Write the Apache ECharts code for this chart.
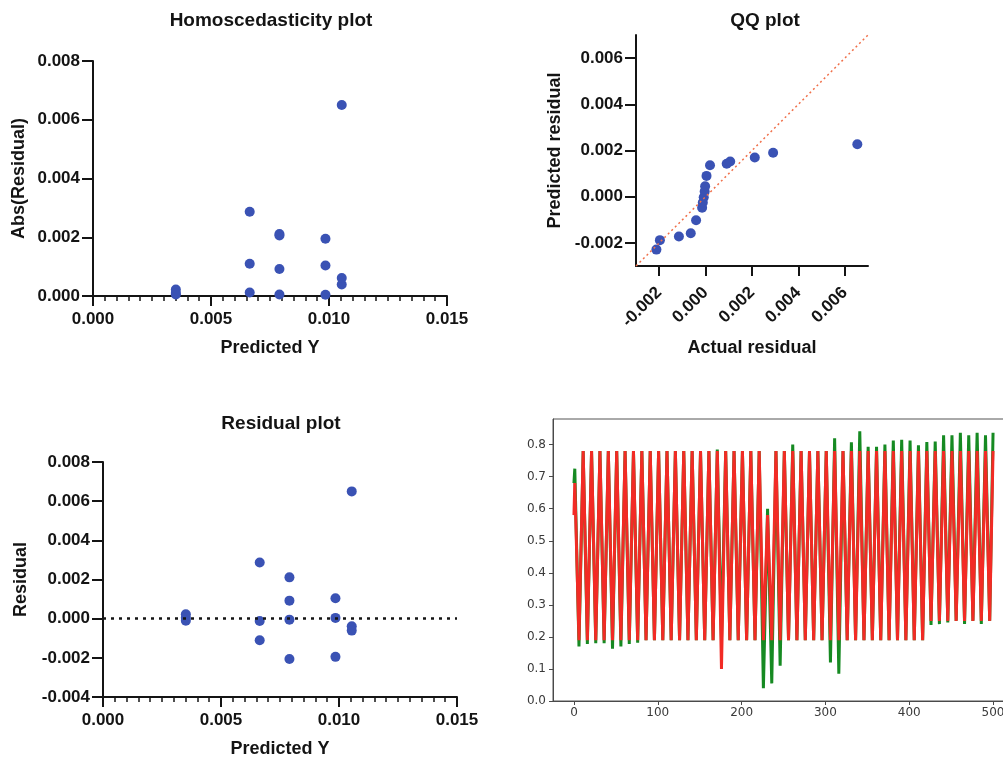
<!DOCTYPE html>
<html>
<head>
<meta charset="utf-8">
<title>Residual diagnostics</title>
<script src="https://cdn.jsdelivr.net/npm/echarts@6/dist/echarts.min.js"></script>
<style>
html, body { margin: 0; padding: 0; background: #ffffff; overflow: hidden; }
#chart { width: 1003px; height: 760px; }
</style>
</head>
<body>
<div id="chart"></div>
<script>
// predicted Y and residual of each point (homoscedasticity + residual plot)
const predY = [0.00351, 0.00351, 0.00351, 0.00664, 0.00664, 0.00664, 0.0079, 0.0079,
  0.0079, 0.0079, 0.00985, 0.00985, 0.00985, 0.01054, 0.01054, 0.01054]
const residual = [0.00022, 0.00005, -0.0001, 0.00287, -0.00012, -0.0011, 0.00211, 0.00092,
  -0.00005, -0.00206, 0.00104, 0.00004, -0.00195, 0.0065, -0.00039, -0.00061]

// QQ plot
const qqActual = [-0.00212, -0.00197, -0.00115, -0.00064, -0.00041, -0.00015, -0.00012, -0.00008,
  -0.00004, -0.00002, 0.00004, 0.00019, 0.00091, 0.00106, 0.00212, 0.00291, 0.00654]
const qqPredicted = [-0.00229, -0.00188, -0.00172, -0.00158, -0.00102, -0.00048, -0.00025, -0.00002,
  0.00022, 0.00045, 0.0009, 0.00136, 0.00143, 0.00152, 0.0017, 0.0019, 0.00227]
const qqLine = [-0.003, 0.007]

// tick labels
const predTicks = [0, 0.005, 0.01, 0.015]
const qqTicks = [-0.002, 0, 0.002, 0.004, 0.006]
const stepTicks = [0, 100, 200, 300, 400, 500]
const probTicks = [0, 0.1, 0.2, 0.3, 0.4, 0.5, 0.6, 0.7, 0.8]

// line plot (bottom right)
const stepX = [0, 1, 6, 11, 16, 21, 26, 31, 36, 41,
  46, 51, 56, 61, 66, 71, 76, 81, 86, 91,
  96, 101, 106, 111, 116, 121, 126, 131, 136, 141,
  146, 151, 156, 161, 166, 171, 176, 181, 186, 191,
  196, 201, 206, 211, 216, 221, 226, 231, 236, 241,
  246, 251, 256, 261, 266, 271, 276, 281, 286, 291,
  296, 301, 306, 311, 316, 321, 326, 331, 336, 341,
  346, 351, 356, 361, 366, 371, 376, 381, 386, 391,
  396, 401, 406, 411, 416, 421, 426, 431, 436, 441,
  446, 451, 456, 461, 466, 471, 476, 481, 486, 491,
  496, 500]
const greenY = [0.68, 0.725, 0.17, 0.78, 0.178, 0.78, 0.18, 0.78, 0.18, 0.78,
  0.163, 0.78, 0.17, 0.78, 0.178, 0.78, 0.182, 0.78, 0.19, 0.78,
  0.19, 0.78, 0.19, 0.78, 0.19, 0.78, 0.19, 0.78, 0.19, 0.78,
  0.19, 0.78, 0.19, 0.78, 0.19, 0.785, 0.19, 0.78, 0.19, 0.78,
  0.19, 0.78, 0.19, 0.78, 0.19, 0.78, 0.04, 0.60, 0.055, 0.78,
  0.11, 0.78, 0.19, 0.80, 0.19, 0.78, 0.19, 0.78, 0.19, 0.78,
  0.19, 0.78, 0.12, 0.82, 0.085, 0.78, 0.19, 0.807, 0.19, 0.842,
  0.19, 0.793, 0.19, 0.793, 0.19, 0.80, 0.19, 0.813, 0.19, 0.815,
  0.19, 0.813, 0.19, 0.798, 0.19, 0.808, 0.237, 0.81, 0.24, 0.829,
  0.245, 0.829, 0.25, 0.837, 0.24, 0.829, 0.25, 0.837, 0.24, 0.829,
  0.25, 0.837]
const redY = [0.58, 0.68, 0.19, 0.78, 0.19, 0.78, 0.19, 0.78, 0.19, 0.78,
  0.19, 0.78, 0.19, 0.78, 0.19, 0.78, 0.19, 0.78, 0.19, 0.78,
  0.19, 0.78, 0.19, 0.78, 0.19, 0.78, 0.19, 0.78, 0.19, 0.78,
  0.19, 0.78, 0.19, 0.78, 0.19, 0.78, 0.10, 0.78, 0.19, 0.78,
  0.19, 0.78, 0.19, 0.78, 0.19, 0.78, 0.19, 0.58, 0.19, 0.78,
  0.19, 0.78, 0.19, 0.78, 0.19, 0.78, 0.19, 0.78, 0.19, 0.78,
  0.19, 0.78, 0.19, 0.78, 0.19, 0.78, 0.19, 0.78, 0.19, 0.78,
  0.19, 0.78, 0.19, 0.78, 0.19, 0.78, 0.19, 0.78, 0.19, 0.78,
  0.19, 0.78, 0.19, 0.78, 0.19, 0.78, 0.25, 0.78, 0.25, 0.78,
  0.25, 0.78, 0.25, 0.78, 0.25, 0.78, 0.25, 0.78, 0.25, 0.78,
  0.25, 0.78]

const black = '#141414'
const dotBlue = '#3a52b4'
const font = '"Liberation Sans", Arial, sans-serif'
const fmt3 = (v) => v.toFixed(3)

// prism style pieces
const prismLine = { show: true, onZero: false, lineStyle: { color: black, width: 2 } }
const prismTick = { show: true, length: 10, lineStyle: { color: black, width: 2 } }
const prismLabel = { color: black, fontFamily: font, fontWeight: 'bold', fontSize: 17, formatter: fmt3 }
const prismName = { color: black, fontFamily: font, fontWeight: 'bold', fontSize: 18 }
const prismMinor = { show: true, splitNumber: 10, length: 5, lineStyle: { color: black, width: 1.5 } }

// matplotlib style pieces
const mplLine = { show: true, onZero: false, lineStyle: { color: '#4a4a4a', width: 1 } }
const mplLabel = { color: '#3a3a3a', fontFamily: 'DejaVu Sans', fontSize: 12 }

const titleText = (text, x, y) => ({
  type: 'text',
  x: x,
  y: y,
  silent: true,
  style: {
    text: text,
    fill: black,
    font: 'bold 19px "Liberation Sans", Arial, sans-serif',
    align: 'center',
    verticalAlign: 'middle'
  }
})

const absData = predY.map((x, i) => [x, Math.abs(residual[i])])
const resData = predY.map((x, i) => [x, residual[i]])
const qqData = qqActual.map((x, i) => [x, qqPredicted[i]])
const greenData = stepX.map((x, i) => [x, greenY[i]])
const redData = stepX.map((x, i) => [x, redY[i]])

const myChart = echarts.init(document.getElementById('chart'))

const options = {
  animation: false,
  backgroundColor: '#ffffff',
  graphic: [
    titleText('Homoscedasticity plot', 271, 21),
    titleText('QQ plot', 765, 21),
    titleText('Residual plot', 281, 424)
  ],
  grid: [
    { left: 93, top: 61, width: 354, height: 235 },
    { left: 636, top: 35, width: 232, height: 231 },
    { left: 103, top: 462, width: 354, height: 235 },
    // right part of this frame runs past the picture edge, like the source
    {
      left: 553, top: 419, width: 461, height: 282, outerBoundsMode: 'none', containLabel: false,
      show: true, borderColor: '#555555', borderWidth: 1
    }
  ],
  xAxis: [
    {
      gridIndex: 0, type: 'value', min: 0, max: 0.015, interval: 0.005,
      axisLine: prismLine, axisTick: prismTick, minorTick: prismMinor,
      axisLabel: { ...prismLabel, margin: 15, customValues: predTicks },
      splitLine: { show: false },
      name: 'Predicted Y', nameLocation: 'middle', nameGap: 43, nameTextStyle: prismName
    },
    {
      gridIndex: 1, type: 'value', min: -0.003, max: 0.007,
      axisLine: prismLine,
      axisTick: { ...prismTick, customValues: qqTicks },
      axisLabel: { ...prismLabel, rotate: 45, margin: 24, customValues: qqTicks },
      splitLine: { show: false },
      name: 'Actual residual', nameLocation: 'middle', nameGap: 73, nameTextStyle: prismName
    },
    {
      gridIndex: 2, type: 'value', min: 0, max: 0.015, interval: 0.005,
      axisLine: prismLine, axisTick: prismTick, minorTick: prismMinor,
      axisLabel: { ...prismLabel, margin: 15, customValues: predTicks },
      splitLine: { show: false },
      name: 'Predicted Y', nameLocation: 'middle', nameGap: 43, nameTextStyle: prismName
    },
    {
      gridIndex: 3, type: 'value', min: -25, max: 525,
      axisLine: mplLine,
      axisTick: { show: true, length: 4, lineStyle: { color: '#4a4a4a' }, customValues: stepTicks },
      axisLabel: { ...mplLabel, margin: 6, customValues: stepTicks },
      splitLine: { show: false }
    }
  ],
  yAxis: [
    {
      gridIndex: 0, type: 'value', min: 0, max: 0.008, interval: 0.002,
      axisLine: prismLine, axisTick: { ...prismTick, length: 11 },
      axisLabel: { ...prismLabel, margin: 13 },
      splitLine: { show: false },
      name: 'Abs(Residual)', nameLocation: 'middle', nameGap: 65, nameTextStyle: prismName
    },
    {
      gridIndex: 1, type: 'value', min: -0.003, max: 0.007,
      axisLine: prismLine,
      axisTick: { ...prismTick, length: 11, customValues: qqTicks },
      axisLabel: { ...prismLabel, margin: 13, customValues: qqTicks },
      splitLine: { show: false },
      name: 'Predicted residual', nameLocation: 'middle', nameGap: 72, nameTextStyle: prismName
    },
    {
      gridIndex: 2, type: 'value', min: -0.004, max: 0.008, interval: 0.002,
      axisLine: prismLine, axisTick: { ...prismTick, length: 11 },
      axisLabel: { ...prismLabel, margin: 13 },
      splitLine: { show: false },
      name: 'Residual', nameLocation: 'middle', nameGap: 73, nameTextStyle: prismName
    },
    {
      gridIndex: 3, type: 'value', min: 0, max: 0.88,
      axisLine: mplLine,
      axisTick: { show: true, length: 4, lineStyle: { color: '#4a4a4a' }, customValues: probTicks },
      axisLabel: { ...mplLabel, margin: 7, customValues: probTicks, formatter: (v) => v.toFixed(1) },
      splitLine: { show: false }
    }
  ],
  series: [
    {
      type: 'scatter', xAxisIndex: 0, yAxisIndex: 0, data: absData,
      symbolSize: 10, itemStyle: { color: dotBlue, opacity: 1 }
    },
    {
      type: 'line', xAxisIndex: 1, yAxisIndex: 1,
      data: [[qqLine[0], qqLine[0]], [qqLine[1], qqLine[1]]],
      showSymbol: false, silent: true,
      lineStyle: { color: '#f0704a', width: 1.5, type: [2, 3] }
    },
    {
      type: 'scatter', xAxisIndex: 1, yAxisIndex: 1, data: qqData,
      symbolSize: 10, itemStyle: { color: dotBlue, opacity: 1 }
    },
    {
      type: 'scatter', xAxisIndex: 2, yAxisIndex: 2, data: resData,
      symbolSize: 10, itemStyle: { color: dotBlue, opacity: 1 },
      markLine: {
        silent: true, symbol: 'none', label: { show: false },
        lineStyle: { color: black, width: 2.5, type: [3, 5] },
        data: [{ yAxis: 0 }]
      }
    },
    {
      type: 'line', xAxisIndex: 3, yAxisIndex: 3, data: greenData,
      showSymbol: false, silent: true,
      lineStyle: { color: '#168a22', width: 3 }
    },
    {
      type: 'line', xAxisIndex: 3, yAxisIndex: 3, data: redData,
      showSymbol: false, silent: true,
      lineStyle: { color: '#f22b25', width: 3 }
    }
  ]
}
myChart.setOption(options)
</script>
</body>
</html>
